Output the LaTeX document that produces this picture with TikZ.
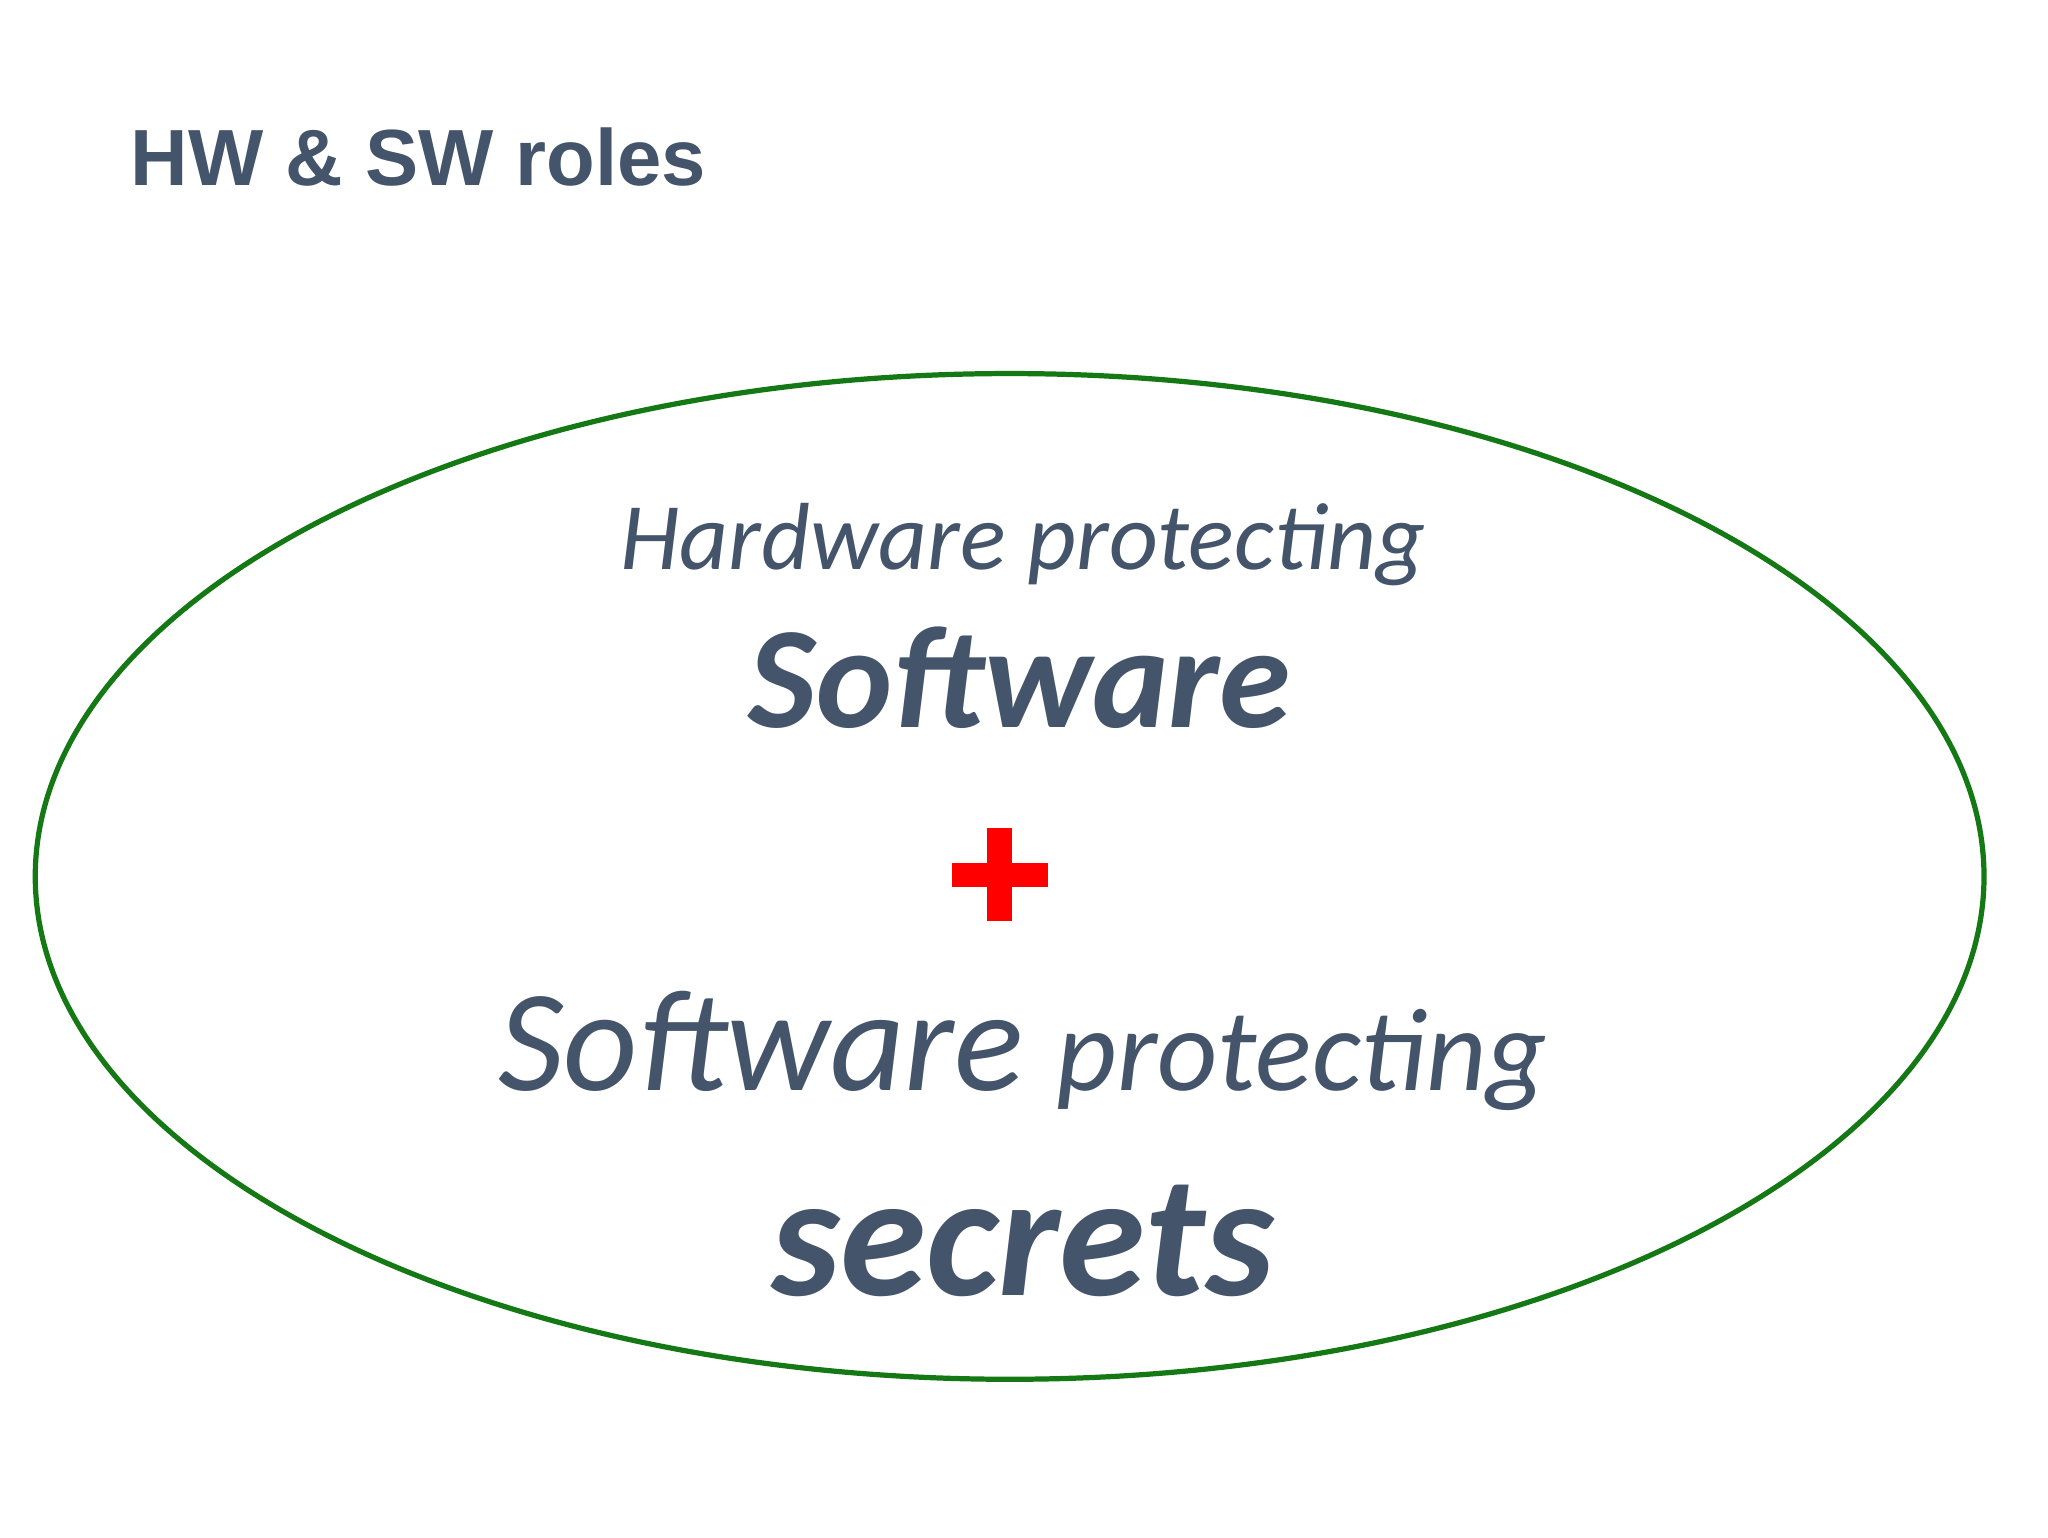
\documentclass[tikz,border=0pt]{standalone}
\usepackage{fontspec}
\setmainfont{Carlito}
\newfontfamily\titlefont{Liberation Sans}
\definecolor{txt}{HTML}{44546A}
\definecolor{eg}{RGB}{20,120,20}
\begin{document}
\begin{tikzpicture}[x=1pt,y=-1pt,
  lbl/.style={text=txt,inner sep=0pt,anchor=base}]
\useasboundingbox (0,0) rectangle (1568,1177);
\fill[white] (0,0) rectangle (1568,1177);
\node[lbl,anchor=base west] (title) at (100,142) {\titlefont\bfseries\fontsize{61}{70}\selectfont HW \& SW roles};
\draw[eg,line width=4pt] (773,671) ellipse [x radius=746,y radius=385];
\node[lbl] (l1) at (783,436) {\itshape\fontsize{73}{80}\selectfont Hardware protecting};
\node[lbl] (l2) at (781,557) {\bfseries\itshape\fontsize{111}{120}\selectfont Software};
\fill[red] (756,634) rectangle (775,705);
\fill[red] (729,661) rectangle (802,679);
\node[lbl] (l3) at (783,835) {\itshape\fontsize{111}{115}\selectfont Software {\fontsize{90}{95}\selectfont protecting}};
\node[lbl] (l4) at (783,992) {\bfseries\itshape\fontsize{134}{140}\selectfont secrets};
\end{tikzpicture}
\end{document}
